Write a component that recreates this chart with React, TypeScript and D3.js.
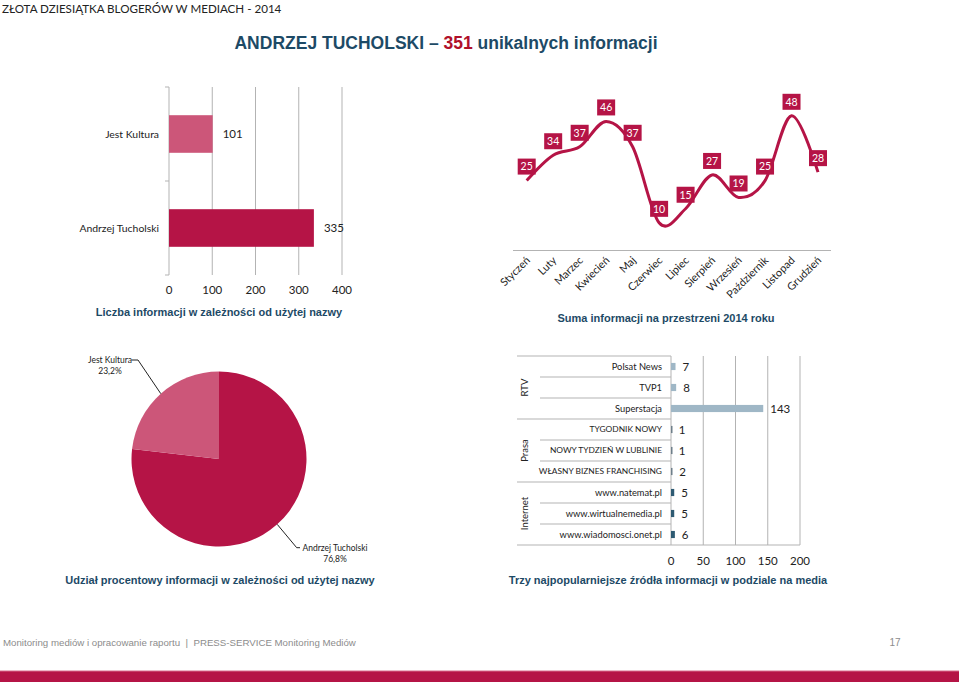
import React from "react";
import * as d3 from "d3";

// ---------- DATA ----------
const nameCategories = ["Jest Kultura", "Andrzej Tucholski"];
const nameValues = [101, 335];
const nameTicks = [0, 100, 200, 300, 400];

const months = ["Styczeń", "Luty", "Marzec", "Kwiecień", "Maj", "Czerwiec", "Lipiec", "Sierpień", "Wrzesień", "Październik", "Listopad", "Grudzień"];
const monthValues = [25, 34, 37, 46, 37, 10, 15, 27, 19, 25, 48, 28];

const pieNames = ["Andrzej Tucholski", "Jest Kultura"];
const pieValues = [335, 101];
const pieLabels = ["76,8%", "23,2%"];

const mediaGroups = ["RTV", "Prasa", "Internet"];
const mediaNames = ["Polsat News", "TVP1", "Superstacja", "TYGODNIK NOWY", "NOWY TYDZIEŃ W LUBLINIE", "WŁASNY BIZNES FRANCHISING", "www.natemat.pl", "www.wirtualnemedia.pl", "www.wiadomosci.onet.pl"];
const mediaGroupOf = ["RTV", "RTV", "RTV", "Prasa", "Prasa", "Prasa", "Internet", "Internet", "Internet"];
const mediaValues = [7, 8, 143, 1, 1, 2, 5, 5, 6];
const mediaTicks = [0, 50, 100, 150, 200];

// ---------- STYLE ----------
const CRIMSON = "#b51446";
const PINK = "#cc5679";
const NAVY = "#1d4a66";
const GRID = "#b3b3b3";
const CAL = "Lato, 'Open Sans', sans-serif";
const ARIAL = "'Liberation Sans', Arial, sans-serif";
const groupColors: Record<string, string> = { RTV: "#9fb7c6", Prasa: "#6e7f8a", Internet: "#2d5a72" };

export default function App() {
  // Chart 1: horizontal bars
  const x1 = d3.scaleLinear().domain([0, 400]).range([169, 342]);
  const y1 = d3.scaleBand().domain(nameCategories).range([87, 275]).paddingInner(0.6).paddingOuter(0.3);
  const barColors = [PINK, CRIMSON];

  // Chart 2: line
  const x2 = d3.scalePoint().domain(months).range([526.7, 818]);
  const y2 = d3.scaleLinear().domain([0, 60]).range([251, 82]);
  const line = d3
    .line<number>()
    .x((_, i) => x2(months[i]) as number)
    .y((d) => y2(d))
    .curve(d3.curveCardinal.tension(0));

  // Chart 3: pie
  const cx = 219, cy = 459, r = 87.5;
  const pie = d3.pie<number>().sort(null).value((d) => d)(pieValues);
  const arc = d3.arc<d3.PieArcDatum<number>>().innerRadius(0).outerRadius(r);
  const pieColors = [CRIMSON, PINK];
  const edge = (a: d3.PieArcDatum<number>) => {
    const m = (a.startAngle + a.endAngle) / 2;
    return [cx + r * Math.sin(m), cy - r * Math.cos(m)];
  };
  const pieLabelLayout = [
    { elbow: [296.7, 547.7], end: [300, 547.7], tx: 335, ty: 551 },
    { elbow: [138, 360], end: [131.5, 360], tx: 110, ty: 363 },
  ];

  // Chart 4: media bars
  const x4 = d3.scaleLinear().domain([0, 200]).range([671, 800]);
  const y4 = d3.scaleBand().domain(mediaNames).range([356, 545]).paddingInner(0.66).paddingOuter(0.33);
  const step4 = y4.step();
  const rowTop = (i: number) => 356 + i * step4;
  const isCaps = (s: string) => s === s.toUpperCase() && /[A-Z]/.test(s) && s.length > 4;

  return (
    <svg width={959} height={682} style={{ position: "absolute", left: 0, top: 0, background: "#fff" }}>
      <rect x={0} y={0} width={959} height={682} fill="#fff" />
      {/* Header */}
      <text x={2} y={13} fontFamily={CAL} fontSize={11.6} fill="#222">ZŁOTA DZIESIĄTKA BLOGERÓW W MEDIACH - 2014</text>
      <text x={446} y={48.5} textAnchor="middle" fontFamily={ARIAL} fontWeight="bold" fontSize={17.5} fill={NAVY}>
        ANDRZEJ TUCHOLSKI – <tspan fill="#b0102a">351</tspan> unikalnych informacji
      </text>

      {/* Chart 1 */}
      {nameTicks.slice(1).map((t) => (
        <line key={t} x1={x1(t)} x2={x1(t)} y1={87} y2={275} stroke={GRID} strokeWidth={1} />
      ))}
      <line x1={169} x2={169} y1={87} y2={275} stroke={GRID} />
      {[87, 181, 275].map((y) => (
        <line key={y} x1={165} x2={169} y1={y} y2={y} stroke={GRID} />
      ))}
      {nameCategories.map((c, i) => (
        <g key={c}>
          <rect x={x1(0)} y={y1(c)} width={x1(nameValues[i]) - x1(0)} height={y1.bandwidth()} fill={barColors[i]} />
          <text x={159} y={(y1(c) as number) + y1.bandwidth() / 2} dy="0.35em" textAnchor="end" fontFamily={CAL} fontSize={10.4} fill="#222">{c}</text>
          <text x={x1(nameValues[i]) + 10} y={(y1(c) as number) + y1.bandwidth() / 2} dy="0.35em" fontFamily={CAL} fontSize={11.5} fill="#222">{nameValues[i]}</text>
        </g>
      ))}
      {nameTicks.map((t) => (
        <text key={t} x={x1(t)} y={290} dy="0.35em" textAnchor="middle" fontFamily={CAL} fontSize={11.5} fill="#222">{t}</text>
      ))}
      <text x={219} y={316} textAnchor="middle" fontFamily={ARIAL} fontWeight="bold" fontSize={11} fill={NAVY}>Liczba informacji w zależności od użytej nazwy</text>

      {/* Chart 2 */}
      <line x1={513} x2={831} y1={250.5} y2={250.5} stroke={GRID} />
      <path d={line(monthValues) as string} fill="none" stroke={CRIMSON} strokeWidth={3} />
      {monthValues.map((v, i) => {
        const px = x2(months[i]) as number;
        const py = y2(v) - 14;
        return (
          <g key={i}>
            <rect x={px - 9} y={py - 8} width={18} height={16} fill={CRIMSON} />
            <text x={px} y={py} dy="0.36em" textAnchor="middle" fontFamily={CAL} fontSize={10.5} fill="#fff">{v}</text>
          </g>
        );
      })}
      {months.map((m) => (
        <text key={m} transform={`translate(${(x2(m) as number) + 4},${261}) rotate(-45)`} textAnchor="end" fontFamily={CAL} fontSize={10.8} fill="#222">{m}</text>
      ))}
      <text x={666} y={322} textAnchor="middle" fontFamily={ARIAL} fontWeight="bold" fontSize={11} fill={NAVY}>Suma informacji na przestrzeni 2014 roku</text>

      {/* Chart 3 */}
      <g transform={`translate(${cx},${cy})`}>
        {pie.map((a, i) => (
          <path key={i} d={arc(a) as string} fill={pieColors[i]} />
        ))}
      </g>
      {pie.map((a, i) => {
        const [ex, ey] = edge(a);
        const L = pieLabelLayout[i];
        return (
          <g key={i}>
            <polyline points={`${ex},${ey} ${L.elbow[0]},${L.elbow[1]} ${L.end[0]},${L.end[1]}`} fill="none" stroke="#222" strokeWidth={1} />
            <text x={L.tx} y={L.ty} textAnchor="middle" fontFamily={CAL} fontSize={8.5} fill="#222">{pieNames[i]}</text>
            <text x={L.tx} y={L.ty + 11} textAnchor="middle" fontFamily={CAL} fontSize={8.5} fill="#222">{pieLabels[i]}</text>
          </g>
        );
      })}
      <text x={220} y={584} textAnchor="middle" fontFamily={ARIAL} fontWeight="bold" fontSize={11} fill={NAVY}>Udział procentowy informacji w zależności od użytej nazwy</text>

      {/* Chart 4 */}
      {mediaTicks.slice(1).map((t) => (
        <line key={t} x1={x4(t)} x2={x4(t)} y1={356} y2={545} stroke={GRID} />
      ))}
      <line x1={671} x2={671} y1={356} y2={545} stroke={GRID} />
      {mediaNames.map((_, i) => {
        const y = rowTop(i);
        const groupStart = i === 0 || mediaGroupOf[i] !== mediaGroupOf[i - 1];
        return <line key={"s" + i} x1={groupStart ? 517 : 540} x2={671} y1={y} y2={y} stroke={GRID} />;
      })}
      <line x1={517} x2={800} y1={545} y2={545} stroke={GRID} />
      {mediaGroups.map((g) => {
        const idx = mediaGroupOf.map((d, i) => (d === g ? i : -1)).filter((i) => i >= 0);
        const yc = (rowTop(idx[0]) + rowTop(idx[idx.length - 1]) + step4) / 2;
        return (
          <text key={g} transform={`translate(528,${yc}) rotate(-90)`} textAnchor="middle" fontFamily={CAL} fontSize={9.5} fill="#222">{g}</text>
        );
      })}
      {mediaNames.map((n, i) => {
        const yc = (y4(n) as number) + y4.bandwidth() / 2;
        return (
          <g key={n}>
            <rect x={x4(0)} y={y4(n)} width={Math.max(x4(mediaValues[i]) - x4(0), 1.5)} height={y4.bandwidth()} fill={groupColors[mediaGroupOf[i]]} />
            <text x={662} y={yc} dy="0.35em" textAnchor="end" fontFamily={CAL} fontSize={isCaps(n) ? 8.4 : 9.3} fill="#222">{n}</text>
            <text x={x4(mediaValues[i]) + 7} y={yc} dy="0.35em" fontFamily={CAL} fontSize={11.5} fill="#222">{mediaValues[i]}</text>
          </g>
        );
      })}
      {mediaTicks.map((t) => (
        <text key={t} x={x4(t)} y={560.5} dy="0.35em" textAnchor="middle" fontFamily={CAL} fontSize={11.5} fill="#222">{t}</text>
      ))}
      <text x={668} y={584} textAnchor="middle" fontFamily={ARIAL} fontWeight="bold" fontSize={11} fill={NAVY}>Trzy najpopularniejsze źródła informacji w podziale na media</text>

      {/* Footer */}
      <text x={3} y={645.5} fontFamily={ARIAL} fontSize={9.7} fill="#8c8c8c">{"Monitoring mediów i opracowanie raportu\u00a0\u00a0|\u00a0\u00a0PRESS-SERVICE Monitoring Mediów"}</text>
      <text x={895} y={645.5} textAnchor="middle" fontFamily={ARIAL} fontSize={10} fill="#8c8c8c">17</text>
      <rect x={0} y={671} width={959} height={11} fill={CRIMSON} />
      <line x1={0} x2={959} y1={671} y2={671} stroke="#d86a8a" strokeWidth={1} />
    </svg>
  );
}
